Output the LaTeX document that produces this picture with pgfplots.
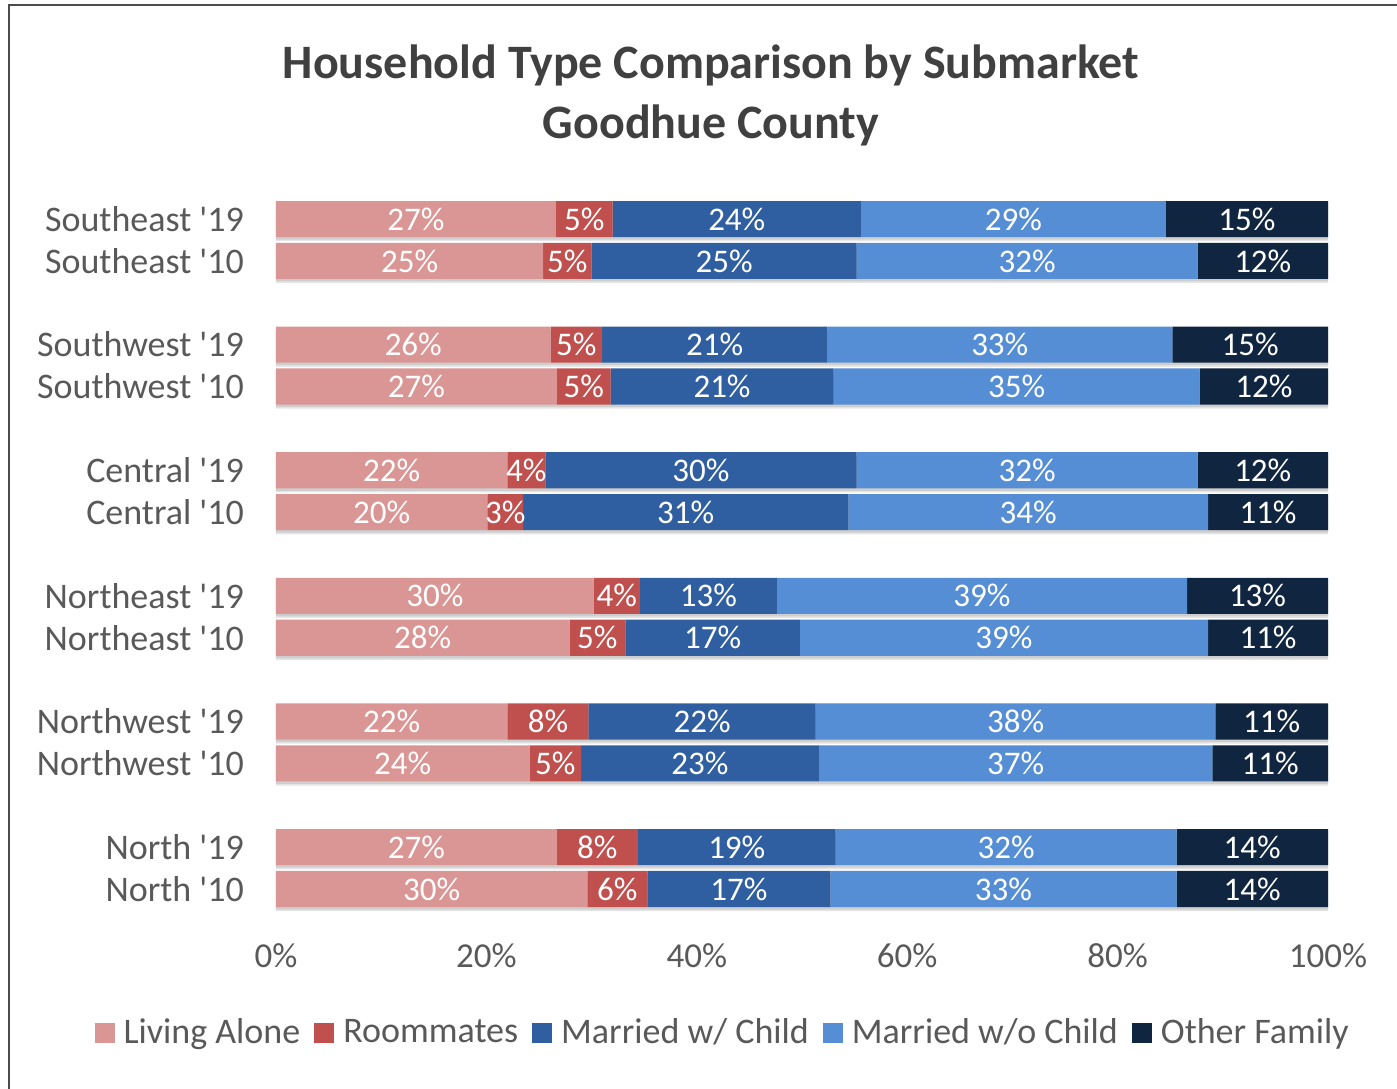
\documentclass[border=0pt]{standalone}
\usepackage{pgfplots}
\pgfplotsset{compat=1.18}
\usepackage{pgfplotstable}
\usepackage{fontspec}
\setmainfont{Carlito}
\definecolor{cla}{HTML}{DA9694}
\definecolor{crm}{HTML}{C0504D}
\definecolor{cmwc}{HTML}{2F5FA0}
\definecolor{cmwo}{HTML}{558ED5}
\definecolor{cof}{HTML}{10253F}
\definecolor{txtgray}{HTML}{595959}
\definecolor{titlegray}{HTML}{404040}
\definecolor{gridgray}{HTML}{D9D9D9}
\newcommand{\q}{\textquotesingle}

\pgfplotstableread{
y  la   rm   mwc  mwo  of   tot
0  29.6 5.7  17.4 32.9 14.4 100
1  26.7 7.7  18.8 32.4 14.4 100
3  24.1 4.9  22.6 37.4 11.0 100
4  22.0 7.7  21.6 38.0 10.7 100
6  27.9 5.3  16.6 38.8 11.4 100
7  30.2 4.4  13.0 39.0 13.4 100
9  20.1 3.4  30.9 34.2 11.4 100
10 22.0 3.6  29.6 32.4 12.4 100
12 26.7 5.1  21.2 34.8 12.2 100
13 26.1 4.9  21.4 32.8 14.8 100
15 25.4 4.6  25.2 32.4 12.4 100
16 26.6 5.4  23.6 29.0 15.4 100
}\data

\begin{document}
\begin{tikzpicture}
\path[use as bounding box] (-138pt,-90.5pt) rectangle (560.5pt,453.5pt);
\draw[line width=1.2pt, gray!60!black] (-133.5pt,-91pt) -- (-133.5pt,451pt) -- (561pt,451pt);
\node[align=center, font=\fontsize{24}{30}\selectfont\bfseries, text=titlegray] at (217.5pt,406pt) {Household Type Comparison by Submarket\\Goodhue County};
% shadow layer
\begin{axis}[
  at={(0,0)}, anchor=south west,
  scale only axis, width=526pt, height=353pt,
  xmin=0, xmax=100, ymin=-0.43, ymax=16.43,
  axis lines=none, clip=false,
  xmajorgrids,
  xtick={0,20,...,100}, ytick=\empty,
  grid style={draw=gridgray, line width=0.75pt},
]
\addplot[xbar, fill=black, draw=none, opacity=0.10, bar width=0.86, bar shift=-0.1] table[x=tot, y=y] {\data};
\addplot[xbar, fill=black, draw=none, opacity=0.10, bar width=0.86, bar shift=-0.06] table[x=tot, y=y] {\data};
\end{axis}
\begin{axis}[
  at={(0,0)}, anchor=south west,
  scale only axis, width=526pt, height=353pt,
  xbar stacked, bar width=0.86,
  xmin=0, xmax=100, ymin=-0.43, ymax=16.43,
  xtick={0,20,...,100},
  xticklabel={\pgfmathprintnumber{\tick}\%},
  /pgf/number format/assume math mode=true,
  ytick={0,1,3,4,6,7,9,10,12,13,15,16},
  yticklabels={North \q10, North \q19, Northwest \q10, Northwest \q19, Northeast \q10, Northeast \q19, Central \q10, Central \q19, Southwest \q10, Southwest \q19, Southeast \q10, Southeast \q19},
  axis line style={draw=none},
  tick style={draw=none},
  ticklabel style={font=\fontsize{17.5}{20}\selectfont, text=txtgray},
  yticklabel style={anchor=east, xshift=-12.5pt, font=\fontsize{18}{20}\selectfont},
  xticklabel style={yshift=-15pt},
  point meta=rawx,
  nodes near coords={\pgfmathprintnumber[fixed,precision=0]{\pgfplotspointmeta}\%},
  nodes near coords style={font=\fontsize{16.5}{19}\selectfont, text=white},
  every axis plot/.append style={draw=none},
  legend columns=-1,
  legend style={draw=none, fill=none, at={(0.4255,-0.178)}, anchor=center, font=\fontsize{18}{20}\selectfont, text=txtgray,
    /tikz/every odd column/.append style={column sep=2.5pt},
    /tikz/every even column/.append style={column sep=5pt}},
  legend image code/.code={\fill[#1] (0pt,-5pt) rectangle (10pt,5pt);},
]
\addplot[fill=cla] table[x=la, y=y] {\data};
\addplot[fill=crm] table[x=rm, y=y] {\data};
\addplot[fill=cmwc] table[x=mwc, y=y] {\data};
\addplot[fill=cmwo] table[x=mwo, y=y] {\data};
\addplot[fill=cof] table[x=of, y=y] {\data};
\legend{Living Alone, Roommates, Married w/ Child, Married w/o Child, Other Family}
\end{axis}
\end{tikzpicture}
\end{document}
